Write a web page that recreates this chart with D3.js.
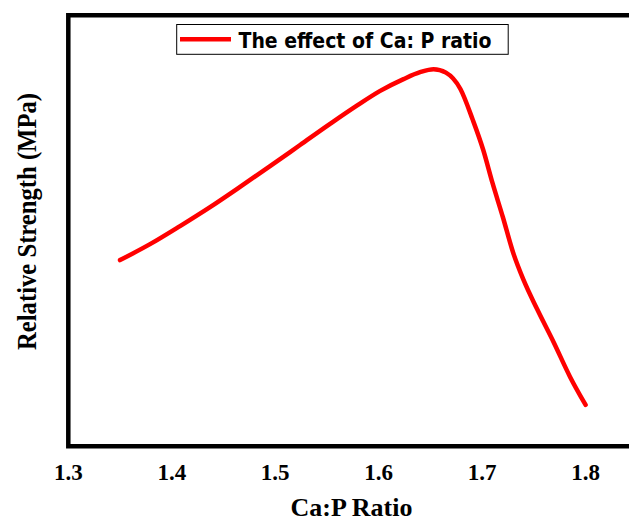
<!DOCTYPE html>
<html>
<head>
<meta charset="utf-8">
<script src="https://cdn.jsdelivr.net/npm/d3@7"></script>
<style>
  body { margin: 0; background: #fff; }
  svg { display: block; }
  .tick-label { font-family: "Liberation Serif", "Times New Roman", serif; font-weight: bold; font-size: 23px; }
  .labels { font-family: "Liberation Serif", "Times New Roman", serif; font-weight: bold; }
  .legend-text { font-family: "DejaVu Sans", Verdana, sans-serif; font-weight: bold; font-size: 21px; }
</style>
</head>
<body>
<div id="graf"></div>
<script>
// Ca:P ratio vs relative strength (y has no units shown)
const ratio = [1.35, 1.379, 1.408, 1.437, 1.466, 1.495, 1.524, 1.553, 1.580, 1.601,
  1.624, 1.640, 1.653, 1.665, 1.679, 1.691, 1.701, 1.710, 1.720, 1.730,
  1.740, 1.753, 1.769, 1.785, 1.80]
const strength = [43.2, 46.9, 51.1, 55.5, 60.2, 65.0, 69.9, 74.8, 79.2, 82.4,
  85.2, 86.8, 87.5, 86.7, 82.9, 75.7, 68.8, 61.1, 53.2, 44.9,
  38.6, 31.9, 24.2, 16.1, 9.6]
const xTicks = [1.3, 1.4, 1.5, 1.6, 1.7, 1.8]
const legendLabel = "The effect of Ca: P ratio"

const anchoTotal = 629
const altoTotal = 520
const margins = { left: 68.3, top: 15.3, right: 0, bottom: 73.7 }
const alto = altoTotal - margins.top - margins.bottom

const svg = d3.select("#graf")
  .append("svg")
  .attr("width", anchoTotal)
  .attr("height", altoTotal)

// 1.3 -> axis left, 1.8 -> 585.6
const x = d3.scaleLinear().domain([1.3, 1.8]).range([margins.left, 585.6])
const y = d3.scaleLinear().domain([0, 100]).range([margins.top + alto, margins.top])

// frame (right side runs off the picture)
svg.append("path")
  .attr("d", `M${anchoTotal + 10},${margins.top} H${margins.left} V${margins.top + alto} H${anchoTotal + 10}`)
  .attr("fill", "none")
  .attr("stroke", "#000")
  .attr("stroke-width", 4.5)

// x tick labels, no tick marks
svg.append("g")
  .selectAll("text")
  .data(xTicks)
  .join("text")
  .attr("class", "tick-label")
  .attr("x", (d) => x(d))
  .attr("y", 480)
  .attr("text-anchor", "middle")
  .text((d) => d3.format(".1f")(d))

const linea = d3.line()
  .x((d, i) => x(ratio[i]))
  .y((d) => y(d))
  .curve(d3.curveMonotoneX)

svg.append("path")
  .datum(strength)
  .attr("d", linea)
  .attr("fill", "none")
  .attr("stroke", "#ff0000")
  .attr("stroke-width", 4.5)
  .attr("stroke-linecap", "round")
  .attr("stroke-linejoin", "round")

// legend
const leg = svg.append("g")
leg.append("rect")
  .attr("x", 176.7)
  .attr("y", 24.5)
  .attr("width", 331.5)
  .attr("height", 29.8)
  .attr("fill", "#fff")
  .attr("stroke", "#000")
  .attr("stroke-width", 1)
leg.append("line")
  .attr("x1", 180).attr("x2", 231)
  .attr("y1", 39.3).attr("y2", 39.3)
  .attr("stroke", "#ff0000")
  .attr("stroke-width", 4.5)
leg.append("text")
  .attr("class", "legend-text")
  .attr("x", 238.5)
  .attr("y", 48.3)
  .attr("textLength", 253)
  .attr("lengthAdjust", "spacingAndGlyphs")
  .text(legendLabel)

// axis titles
svg.append("text")
  .attr("class", "labels")
  .attr("x", 351.5)
  .attr("y", 516)
  .attr("text-anchor", "middle")
  .attr("font-size", 25)
  .attr("textLength", 122)
  .attr("lengthAdjust", "spacingAndGlyphs")
  .text("Ca:P Ratio")

svg.append("g")
  .attr("transform", `translate(36, 221.5)`)
  .append("text")
  .attr("class", "labels")
  .attr("transform", "rotate(-90)")
  .attr("text-anchor", "middle")
  .attr("font-size", 27)
  .attr("textLength", 257)
  .attr("lengthAdjust", "spacingAndGlyphs")
  .text("Relative Strength (MPa)")
</script>
</body>
</html>
